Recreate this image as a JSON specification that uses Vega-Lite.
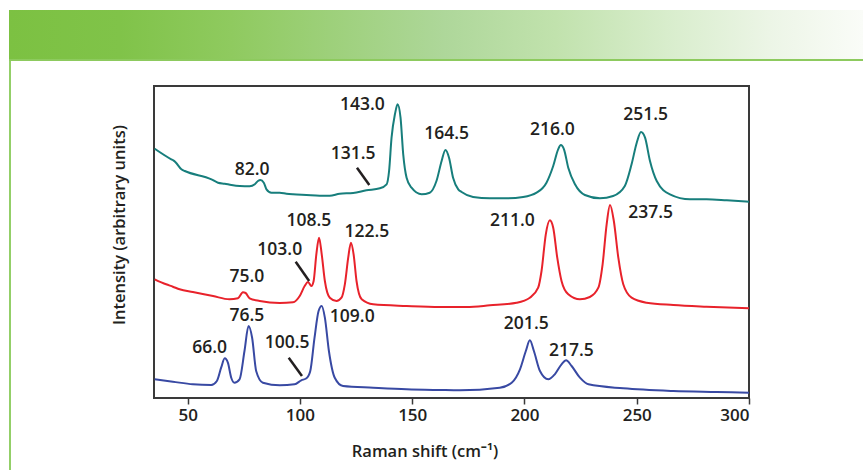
{
  "$schema": "https://vega.github.io/schema/vega-lite/v6.json",
  "padding": {"left": 9, "top": 10, "right": 0, "bottom": 0},
  "background": "white",
  "spacing": 0,
  "config": {
    "view": {"stroke": null},
    "axis": {
      "labelFont": "Open Sans", "labelFontWeight": 650, "labelFontSize": 17, "labelColor": "#231f20",
      "titleFont": "Open Sans", "titleFontWeight": 650, "titleFontSize": 16.5, "titleColor": "#231f20",
      "grid": false
    }
  },
  "datasets": {
    "spectra": [
      {"s":"a","x":35.3,"y":249.3},{"s":"a","x":42.7,"y":238.7},{"s":"a","x":43.6,"y":237.6},{"s":"a","x":44.6,"y":235.8},{"s":"a","x":47.2,"y":228.7},{"s":"a","x":48.7,"y":227},
      {"s":"a","x":60.6,"y":218.7},{"s":"a","x":63.5,"y":215.3},{"s":"a","x":66.5,"y":214.3},{"s":"a","x":69.5,"y":213},{"s":"a","x":73.2,"y":212},{"s":"a","x":77.6,"y":211.7},
      {"s":"a","x":79.9,"y":213.7},{"s":"a","x":81.3,"y":217},{"s":"a","x":82.4,"y":218},{"s":"a","x":83.9,"y":215.3},{"s":"a","x":85.1,"y":208.7},{"s":"a","x":87.3,"y":205.3},
      {"s":"a","x":91.0,"y":205.3},{"s":"a","x":94.0,"y":204.3},{"s":"a","x":96.9,"y":203.7},{"s":"a","x":102.9,"y":203},{"s":"a","x":108.8,"y":202.3},{"s":"a","x":113.3,"y":202.3},
      {"s":"a","x":117.7,"y":204.3},{"s":"a","x":123.7,"y":205},{"s":"a","x":129.6,"y":207.7},{"s":"a","x":135.6,"y":209.7},{"s":"a","x":138.6,"y":213.7},{"s":"a","x":139.7,"y":227},
      {"s":"a","x":140.8,"y":260.3},{"s":"a","x":142.3,"y":283.7},{"s":"a","x":143.5,"y":293.7},{"s":"a","x":144.8,"y":280.3},{"s":"a","x":146.0,"y":243.7},{"s":"a","x":147.5,"y":220.3},
      {"s":"a","x":149.7,"y":210.3},{"s":"a","x":154.2,"y":203.7},{"s":"a","x":157.8,"y":205.3},{"s":"a","x":160.8,"y":217},{"s":"a","x":163.1,"y":237},{"s":"a","x":164.8,"y":248},
      {"s":"a","x":166.4,"y":240.3},{"s":"a","x":168.2,"y":220.3},{"s":"a","x":170.5,"y":208.7},{"s":"a","x":172.0,"y":206},{"s":"a","x":177.1,"y":201},{"s":"a","x":184.6,"y":199.7},
      {"s":"a","x":192.0,"y":199.7},{"s":"a","x":199.4,"y":201},{"s":"a","x":205.4,"y":205.3},{"s":"a","x":209.8,"y":215.3},{"s":"a","x":212.8,"y":232},{"s":"a","x":215.0,"y":248.7},
      {"s":"a","x":216.2,"y":253},{"s":"a","x":217.6,"y":248.7},{"s":"a","x":219.5,"y":230.3},{"s":"a","x":222.5,"y":213.7},{"s":"a","x":226.9,"y":203},{"s":"a","x":233.6,"y":199.7},
      {"s":"a","x":239.5,"y":202},{"s":"a","x":244.7,"y":212},{"s":"a","x":247.7,"y":233.7},{"s":"a","x":250.0,"y":255.3},{"s":"a","x":251.9,"y":266},{"s":"a","x":253.7,"y":260.3},
      {"s":"a","x":255.9,"y":237},{"s":"a","x":258.9,"y":217},{"s":"a","x":264.8,"y":203.7},{"s":"a","x":273.7,"y":198.7},{"s":"a","x":281.1,"y":198.7},{"s":"a","x":290.1,"y":197.7},{"s":"a","x":300,"y":196.3},

      {"s":"b","x":35.3,"y":118.7},{"s":"b","x":40.4,"y":113.7},{"s":"b","x":43.4,"y":111.3},{"s":"b","x":46.4,"y":108.7},{"s":"b","x":52.3,"y":106},{"s":"b","x":61.3,"y":102},
      {"s":"b","x":68.6,"y":98.7},{"s":"b","x":72.4,"y":99.7},{"s":"b","x":74.6,"y":105.7},{"s":"b","x":75.8,"y":105},{"s":"b","x":77.6,"y":99.7},{"s":"b","x":82.1,"y":97},
      {"s":"b","x":91.0,"y":95},{"s":"b","x":96.9,"y":95.7},{"s":"b","x":99.9,"y":102},{"s":"b","x":102.1,"y":112},{"s":"b","x":103.6,"y":116},{"s":"b","x":105.1,"y":112},
      {"s":"b","x":106.1,"y":117},{"s":"b","x":107.3,"y":143.7},{"s":"b","x":108.5,"y":160.3},{"s":"b","x":109.7,"y":143.7},{"s":"b","x":111.1,"y":117},{"s":"b","x":113.3,"y":100.3},
      {"s":"b","x":116.3,"y":97},{"s":"b","x":118.5,"y":100.3},{"s":"b","x":120.0,"y":113.7},{"s":"b","x":121.5,"y":140.3},{"s":"b","x":122.7,"y":155.3},{"s":"b","x":123.9,"y":143.7},
      {"s":"b","x":125.2,"y":117},{"s":"b","x":127.5,"y":98.7},{"s":"b","x":132.6,"y":93.7},{"s":"b","x":147.5,"y":92},{"s":"b","x":162.3,"y":91},{"s":"b","x":174.2,"y":91},
      {"s":"b","x":184.6,"y":92.7},{"s":"b","x":196.5,"y":95.3},{"s":"b","x":202.4,"y":100.3},{"s":"b","x":206.1,"y":110.3},{"s":"b","x":207.6,"y":127},{"s":"b","x":209.5,"y":163.7},
      {"s":"b","x":211.3,"y":177.7},{"s":"b","x":212.8,"y":170.3},{"s":"b","x":214.6,"y":140.3},{"s":"b","x":216.5,"y":117},{"s":"b","x":219.5,"y":103.7},{"s":"b","x":224.7,"y":98.7},
      {"s":"b","x":229.1,"y":101},{"s":"b","x":232.9,"y":110.3},{"s":"b","x":234.8,"y":133.7},{"s":"b","x":236.6,"y":173.7},{"s":"b","x":238.1,"y":193},{"s":"b","x":239.8,"y":177},
      {"s":"b","x":241.8,"y":140.3},{"s":"b","x":244.0,"y":113.7},{"s":"b","x":247.7,"y":100.3},{"s":"b","x":254.4,"y":95.3},{"s":"b","x":266.3,"y":93},{"s":"b","x":281.1,"y":91.3},{"s":"b","x":300,"y":89.7},

      {"s":"c","x":35.3,"y":18.7},{"s":"c","x":43.4,"y":16.3},{"s":"c","x":52.3,"y":13.7},{"s":"c","x":60.5,"y":13},{"s":"c","x":63.0,"y":17},{"s":"c","x":64.9,"y":30.3},
      {"s":"c","x":66.5,"y":39.7},{"s":"c","x":67.9,"y":35.3},{"s":"c","x":69.4,"y":20.3},{"s":"c","x":70.8,"y":15.3},{"s":"c","x":73.1,"y":18.7},{"s":"c","x":75.3,"y":47},
      {"s":"c","x":77.1,"y":72},{"s":"c","x":78.7,"y":60.3},{"s":"c","x":80.5,"y":27},{"s":"c","x":83.5,"y":15.3},{"s":"c","x":91.0,"y":12.7},{"s":"c","x":97.6,"y":13.7},
      {"s":"c","x":100.6,"y":17.7},{"s":"c","x":102.9,"y":19.7},{"s":"c","x":104.6,"y":27},{"s":"c","x":106.5,"y":60.3},{"s":"c","x":108.3,"y":87},{"s":"c","x":109.7,"y":92},
      {"s":"c","x":111.1,"y":80.3},{"s":"c","x":112.9,"y":47},{"s":"c","x":115.5,"y":20.3},{"s":"c","x":119.2,"y":12},{"s":"c","x":132.6,"y":10.3},{"s":"c","x":147.5,"y":8.7},
      {"s":"c","x":162.3,"y":8},{"s":"c","x":171.2,"y":7.7},{"s":"c","x":189.0,"y":10.3},{"s":"c","x":194.3,"y":15.3},{"s":"c","x":198.0,"y":28.7},{"s":"c","x":200.6,"y":47},
      {"s":"c","x":202.4,"y":57.7},{"s":"c","x":204.2,"y":47},{"s":"c","x":206.9,"y":27},{"s":"c","x":210.6,"y":18.7},{"s":"c","x":213.5,"y":23.7},{"s":"c","x":216.5,"y":33.7},
      {"s":"c","x":218.5,"y":37.7},{"s":"c","x":221.0,"y":32},{"s":"c","x":224.7,"y":20.3},{"s":"c","x":228.5,"y":13.7},{"s":"c","x":244.0,"y":9.7},{"s":"c","x":266.3,"y":7},
      {"s":"c","x":285.6,"y":6},{"s":"c","x":300,"y":5.3}
    ],
    "leaders": [
      {"x":125.4,"y":230.3,"x2":130.9,"y2":213},
      {"x":98.1,"y":136.3,"x2":104.1,"y2":117},
      {"x":95.0,"y":40.3,"x2":100.9,"y2":22}
    ],
    "labels": [
      {"t":"82.0","x":78.7,"y":228},
      {"t":"131.5","x":123.7,"y":243.7},
      {"t":"143.0","x":127.8,"y":293},
      {"t":"164.5","x":165.3,"y":263.7},
      {"t":"216.0","x":212.4,"y":268},
      {"t":"251.5","x":254.0,"y":283},
      {"t":"211.0","x":194.6,"y":177.5},
      {"t":"237.5","x":256.2,"y":184.7},
      {"t":"108.5","x":104.0,"y":176.7},
      {"t":"122.5","x":129.8,"y":166.3},
      {"t":"103.0","x":91.0,"y":148},
      {"t":"75.0","x":76.4,"y":121.3},
      {"t":"76.5","x":76.4,"y":82},
      {"t":"66.0","x":59.8,"y":50},
      {"t":"100.5","x":94.3,"y":54.7},
      {"t":"109.0","x":123.3,"y":81.3},
      {"t":"201.5","x":200.8,"y":74.3},
      {"t":"217.5","x":220.9,"y":47}
    ]
  },
  "vconcat": [
    {
      "width": 854, "height": 49,
      "data": {"values": [{}]},
      "mark": {"type": "rect", "fill": {"gradient": "linear", "x1": 0, "y1": 0, "x2": 1, "y2": 0, "stops": [
        {"offset": 0, "color": "#7cc142"},
        {"offset": 0.13, "color": "#80c349"},
        {"offset": 0.26, "color": "#8fca5f"},
        {"offset": 0.51, "color": "#aed79a"},
        {"offset": 0.64, "color": "#c1e2ad"},
        {"offset": 0.77, "color": "#d8edcc"},
        {"offset": 0.89, "color": "#ecf5e6"},
        {"offset": 1, "color": "#fafcf8"}
      ]}}
    },
    {
      "width": 854, "height": 2,
      "data": {"values": [{}]},
      "mark": {"type": "rect", "fill": "#8dca5e"}
    },
    {
      "spacing": 99,
      "hconcat": [
        {
          "width": 2, "height": 409,
          "data": {"values": [{}]},
          "mark": {"type": "rect", "fill": "#93cf68"}
        },
        {
          "spacing": 0,
          "vconcat": [
            {
              "width": 595, "height": 24,
              "data": {"values": [{}]},
              "mark": {"type": "rect", "opacity": 0}
            },
            {
              "width": 595, "height": 312,
              "view": {"stroke": "#3a3a3a", "strokeWidth": 2},
              "encoding": {
                "x": {"field": "x", "type": "quantitative",
                  "scale": {"domain": [35, 300], "nice": false, "zero": false},
                  "axis": {"values": [50, 100, 150, 200, 250, 300], "domain": false, "ticks": true, "tickSize": 6, "tickWidth": 1.5, "tickColor": "#3a3a3a", "labelPadding": 3,
                    "title": "Raman shift (cm⁻¹)", "titleX": 270.5, "titleY": 53, "titleBaseline": "middle", "titleAlign": "center"}},
                "y": {"field": "y", "type": "quantitative",
                  "scale": {"domain": [0, 312], "nice": false, "zero": false},
                  "axis": {"domain": false, "ticks": false, "labels": false,
                    "title": "Intensity (arbitrary units)", "titleX": -34.3, "titleY": 138.5, "titleAngle": -90, "titleBaseline": "middle", "titleAlign": "center"}}
              },
              "layer": [
                {
                  "data": {"name": "spectra"},
                  "mark": {"type": "line", "strokeWidth": 2, "interpolate": "monotone"},
                  "encoding": {
                    "color": {"field": "s", "type": "nominal", "scale": {"domain": ["a", "b", "c"], "range": ["#177e7c", "#e8222b", "#3849a3"]}, "legend": null}
                  }
                },
                {
                  "data": {"name": "leaders"},
                  "mark": {"type": "rule", "strokeWidth": 2.5, "color": "#231f20"},
                  "encoding": {
                    "x2": {"field": "x2"},
                    "y2": {"field": "y2"}
                  }
                },
                {
                  "data": {"name": "labels"},
                  "mark": {"type": "text", "font": "Open Sans", "fontWeight": 650, "fontSize": 17.5, "color": "#231f20", "align": "center", "baseline": "middle"},
                  "encoding": {
                    "text": {"field": "t"}
                  }
                }
              ]
            }
          ]
        }
      ]
    }
  ]
}
